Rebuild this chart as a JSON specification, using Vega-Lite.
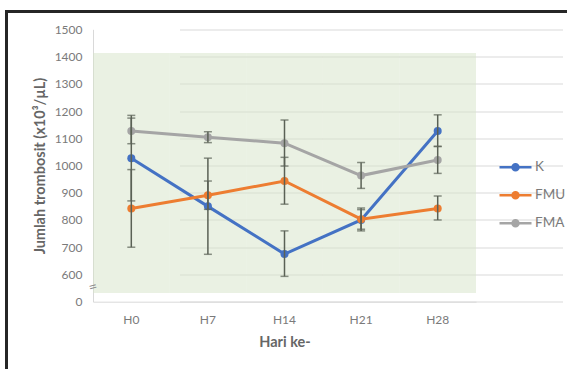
{
  "$schema": "https://vega.github.io/schema/vega-lite/v6.json",
  "autosize": {"type": "none"},
  "padding": {"left": 6.5, "top": 11.5, "right": -3, "bottom": -3},
  "width": 563.5,
  "height": 360.5,
  "background": "white",
  "config": {
    "view": {"stroke": "#262626", "strokeWidth": 3, "fill": "white"},
    "font": "Lato",
    "axisY": {
      "offset": -86.5,
      "grid": true,
      "gridColor": "#d9d9d9",
      "gridWidth": 1,
      "tickCount": 10,
      "domain": true,
      "domainColor": "#d9d9d9",
      "ticks": false,
      "labelOverlap": false,
      "labelPadding": 11,
      "labelFontSize": 12,
      "labelColor": "#7a7a7a",
      "titleFontSize": 14.5,
      "titleFontWeight": "bold",
      "titleColor": "#666666",
      "titlePadding": 7
    },
    "axisX": {
      "offset": -70.3,
      "grid": false,
      "domain": true,
      "domainColor": "#d9d9d9",
      "ticks": false,
      "labelAngle": 0,
      "labelPadding": 13,
      "labelFontSize": 12,
      "labelColor": "#7a7a7a",
      "titleFontSize": 14.5,
      "titleFontWeight": "bold",
      "titleColor": "#666666",
      "titlePadding": 10
    }
  },
  "datasets": {
    "days": [{"day": "H0"}, {"day": "H7"}, {"day": "H14"}, {"day": "H21"}, {"day": "H28"}],
    "stats": [
      {"day": "H0", "group": "K", "mean": 1027, "lo": 870, "hi": 1184},
      {"day": "H7", "group": "K", "mean": 850, "lo": 674, "hi": 1027},
      {"day": "H14", "group": "K", "mean": 675, "lo": 593, "hi": 760},
      {"day": "H21", "group": "K", "mean": 800, "lo": 760, "hi": 844},
      {"day": "H28", "group": "K", "mean": 1127, "lo": 1070, "hi": 1186},
      {"day": "H0", "group": "FMU", "mean": 842, "lo": 700, "hi": 985},
      {"day": "H7", "group": "FMU", "mean": 891, "lo": 839, "hi": 943},
      {"day": "H14", "group": "FMU", "mean": 943, "lo": 858, "hi": 1030},
      {"day": "H21", "group": "FMU", "mean": 803, "lo": 766, "hi": 838},
      {"day": "H28", "group": "FMU", "mean": 842, "lo": 800, "hi": 888},
      {"day": "H0", "group": "FMA", "mean": 1127, "lo": 1080, "hi": 1174},
      {"day": "H7", "group": "FMA", "mean": 1104, "lo": 1084, "hi": 1124},
      {"day": "H14", "group": "FMA", "mean": 1082, "lo": 998, "hi": 1167},
      {"day": "H21", "group": "FMA", "mean": 963, "lo": 916, "hi": 1011},
      {"day": "H28", "group": "FMA", "mean": 1020, "lo": 971, "hi": 1070}
    ]
  },
  "data": {"name": "stats"},
  "encoding": {
    "x": {
      "field": "day",
      "type": "nominal",
      "sort": ["H0", "H7", "H14", "H21", "H28"],
      "title": "Hari ke-",
      "scale": {"type": "band", "paddingInner": 0, "paddingOuter": 0, "range": [86.5, 469.5]}
    }
  },
  "layer": [
    {
      "data": {"name": "days"},
      "mark": {"type": "rect", "color": "#D5E3C7", "opacity": 0.5, "strokeWidth": 0},
      "encoding": {
        "y": {
          "datum": 532,
          "type": "quantitative",
          "title": "Jumlah trombosit (x10³/µL)",
          "scale": {"domain": [500, 1500], "range": [290.2, 17.8], "nice": false, "zero": false},
          "axis": {"labelExpr": "datum.value == 500 ? '0' : format(datum.value, 'd')"}
        },
        "y2": {"datum": 1413}
      }
    },
    {
      "mark": {"type": "line", "strokeWidth": 3},
      "encoding": {
        "y": {"field": "mean", "type": "quantitative", "title": "Jumlah trombosit (x10³/µL)",
              "axis": {"labelExpr": "datum.value == 500 ? '0' : format(datum.value, 'd')"}},
        "color": {
          "field": "group",
          "type": "nominal",
          "scale": {"domain": ["K", "FMU", "FMA"], "range": ["#4472C4", "#ED7D31", "#A5A5A5"]},
          "legend": {
            "orient": "none",
            "legendX": 499.5,
            "legendY": 146.2,
            "title": null,
            "padding": 0,
            "symbolType": "M-2,0L2,0M0.375,0A0.375,0.375,0,1,1,-0.375,0A0.375,0.375,0,1,1,0.375,0Z",
            "symbolSize": 256,
            "symbolStrokeWidth": 2.5,
            "rowPadding": 10,
            "labelOffset": 10,
            "labelFontSize": 13.5,
            "labelColor": "#7a7a7a",
            "encode": {
              "symbols": {
                "update": {
                  "fill": {"scale": "color", "field": "value"},
                  "stroke": {"scale": "color", "field": "value"},
                  "opacity": {"value": 1}
                }
              }
            }
          }
        }
      }
    },
    {
      "mark": {"type": "circle", "size": 64, "opacity": 1},
      "encoding": {
        "y": {"field": "mean", "type": "quantitative", "title": "Jumlah trombosit (x10³/µL)",
              "axis": {"labelExpr": "datum.value == 500 ? '0' : format(datum.value, 'd')"}},
        "color": {"field": "group", "type": "nominal"}
      }
    },
    {
      "mark": {"type": "rule", "color": "#5a6155", "strokeWidth": 1.5},
      "encoding": {
        "y": {"field": "lo", "type": "quantitative", "title": "Jumlah trombosit (x10³/µL)",
              "axis": {"labelExpr": "datum.value == 500 ? '0' : format(datum.value, 'd')"}},
        "y2": {"field": "hi"}
      }
    },
    {
      "mark": {"type": "tick", "color": "#5a6155", "size": 8, "thickness": 1.5, "orient": "horizontal"},
      "encoding": {
        "y": {"field": "lo", "type": "quantitative", "title": "Jumlah trombosit (x10³/µL)",
              "axis": {"labelExpr": "datum.value == 500 ? '0' : format(datum.value, 'd')"}}
      }
    },
    {
      "mark": {"type": "tick", "color": "#5a6155", "size": 8, "thickness": 1.5, "orient": "horizontal"},
      "encoding": {
        "y": {"field": "hi", "type": "quantitative", "title": "Jumlah trombosit (x10³/µL)",
              "axis": {"labelExpr": "datum.value == 500 ? '0' : format(datum.value, 'd')"}}
      }
    },
    {
      "data": {"values": [{"sym": "="}]},
      "mark": {"type": "text", "fontSize": 15, "color": "#8a8a8a", "angle": -15},
      "encoding": {
        "x": {"datum": "H0", "bandPosition": 0},
        "y": {"datum": 555, "type": "quantitative", "title": "Jumlah trombosit (x10³/µL)",
              "axis": {"labelExpr": "datum.value == 500 ? '0' : format(datum.value, 'd')"}},
        "text": {"field": "sym"}
      }
    }
  ]
}
